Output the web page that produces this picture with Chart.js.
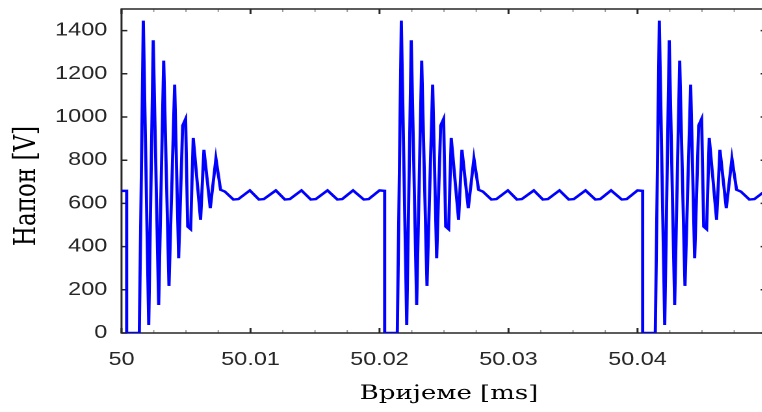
<!DOCTYPE html>
<html><head><meta charset="utf-8">
<script src="https://cdn.jsdelivr.net/npm/chart.js@4"></script>
<style>
html,body{margin:0;padding:0;overflow:hidden;background:#fff;width:762px;height:412px;}
#wrap{position:absolute;left:0;top:0;width:600px;height:412px;transform-origin:0 0;transform:scaleX(1.3);}
</style></head><body>
<div id="wrap"><canvas id="c"></canvas></div>
<script>
// ---- data ----
const timeMs = [
  50.0000, 50.0004, 50.0004, 50.00138, 50.00169, 50.00211, 50.00246, 50.00288, 50.00327, 50.00368,
  50.00412, 50.00443, 50.00474, 50.00497, 50.00513, 50.00536, 50.00556, 50.00613, 50.00639, 50.00688,
  50.00732, 50.00768, 50.00801, 50.00867, 50.00906, 50.00995, 50.01065, 50.01103, 50.01196, 50.01266,
  50.01305, 50.01395, 50.01467, 50.01506, 50.01597, 50.01673, 50.01711, 50.01795, 50.01878, 50.01916,
  50.02000,
  50.0204, 50.0204, 50.02138, 50.02169, 50.02211, 50.02246, 50.02288, 50.02327, 50.02368,
  50.02412, 50.02443, 50.02474, 50.02497, 50.02513, 50.02536, 50.02556, 50.02613, 50.02639, 50.02688,
  50.02732, 50.02768, 50.02801, 50.02867, 50.02906, 50.02995, 50.03065, 50.03103, 50.03196, 50.03266,
  50.03305, 50.03395, 50.03467, 50.03506, 50.03597, 50.03673, 50.03711, 50.03795, 50.03878, 50.03916,
  50.04000,
  50.0404, 50.0404, 50.04138, 50.04169, 50.04211, 50.04246, 50.04288, 50.04327, 50.04368,
  50.04412, 50.04443, 50.04474, 50.04497, 50.04513, 50.04536, 50.04556, 50.04613, 50.04639, 50.04688,
  50.04732, 50.04768, 50.04801, 50.04867, 50.04906, 50.04995
];
const voltageV = [
  658, 658, 0, 0, 1446, 37, 1355, 130, 1261, 218,
  1150, 346, 960, 991, 493, 481, 903, 524, 848, 578,
  807, 663, 655, 618, 620, 660, 618, 620, 660, 618,
  620, 660, 618, 620, 660, 618, 620, 660, 618, 620,
  660,
  658, 0, 0, 1446, 37, 1355, 130, 1261, 218,
  1150, 346, 960, 991, 493, 481, 903, 524, 848, 578,
  807, 663, 655, 618, 620, 660, 618, 620, 660, 618,
  620, 660, 618, 620, 660, 618, 620, 660, 618, 620,
  660,
  658, 0, 0, 1446, 37, 1355, 130, 1261, 218,
  1150, 346, 960, 991, 493, 481, 903, 524, 848, 578,
  807, 663, 655, 618, 620, 660
];
const xTickValues = [50, 50.01, 50.02, 50.03, 50.04];
const xTickLabels = ['50', '50.01', '50.02', '50.03', '50.04'];
const yTickValues = [0, 200, 400, 600, 800, 1000, 1200, 1400];
const yTickLabels = ['0', '200', '400', '600', '800', '1000', '1200', '1400'];
const xTitle = 'Вријеме [ms]';
const yTitle = 'Напон [V]';

// ---- layout ----
const SX = 1.3;
const AX = '#262626';

const matlabAxes = {
  id: 'matlabAxes',
  beforeDatasetsDraw(chart) {
    const {ctx, chartArea: a, scales: {x, y}} = chart;
    ctx.save();
    // minor x ticks
    ctx.strokeStyle = '#9a9a9a';
    ctx.lineWidth = 1;
    for (let i = 0; i < xTickValues.length; i++) {
      for (let k = 1; k < 4; k++) {
        const px = x.getPixelForValue(xTickValues[i] + k * 0.0025);
        ctx.beginPath();
        ctx.moveTo(px, a.bottom); ctx.lineTo(px, a.bottom - 3);
        ctx.moveTo(px, a.top); ctx.lineTo(px, a.top + 3);
        ctx.stroke();
      }
    }
    ctx.strokeStyle = AX;
    ctx.lineWidth = 1.5;
    // major x ticks
    xTickValues.forEach(v => {
      const px = x.getPixelForValue(v);
      ctx.beginPath();
      ctx.moveTo(px, a.bottom); ctx.lineTo(px, a.bottom - 5);
      ctx.moveTo(px, a.top); ctx.lineTo(px, a.top + 5);
      ctx.stroke();
    });
    // major y ticks (left and right side)
    yTickValues.forEach(v => {
      const py = y.getPixelForValue(v);
      ctx.beginPath();
      ctx.moveTo(a.left, py); ctx.lineTo(a.left + 4.5, py);
      ctx.moveTo(a.right, py); ctx.lineTo(a.right - 4.5, py);
      ctx.stroke();
    });
    // box: left, top, bottom (right edge lies outside the visible area)
    ctx.beginPath();
    ctx.moveTo(a.right, a.top); ctx.lineTo(a.left, a.top);
    ctx.lineTo(a.left, a.bottom); ctx.lineTo(a.right, a.bottom);
    ctx.stroke();
    ctx.restore();
  },
  afterDraw(chart) {
    const {ctx} = chart;
    ctx.save();
    ctx.fillStyle = '#000';
    ctx.textAlign = 'center';
    ctx.textBaseline = 'alphabetic';
    ctx.font = '20px "DejaVu Serif"';
    ctx.fillText(xTitle, 449 / SX, 399);
    ctx.font = '23px "DejaVu Serif"';
    ctx.translate(27, 186);
    ctx.rotate(-Math.PI / 2);
    ctx.fillText(yTitle, 0, 0);
    ctx.restore();
  }
};

new Chart(document.getElementById('c'), {
  type: 'line',
  data: {
    datasets: [{
      data: timeMs.map((t, i) => ({x: t, y: voltageV[i]})),
      borderColor: '#0000ff',
      borderWidth: 2.4,
      pointRadius: 0,
      tension: 0,
      fill: false
    }]
  },
  options: {
    responsive: true,
    maintainAspectRatio: false,
    animation: false,
    devicePixelRatio: 2,
    layout: {padding: {top: 9, right: 600 - 766.5 / SX, left: 0, bottom: 0}},
    plugins: {legend: {display: false}, tooltip: {enabled: false}},
    scales: {
      x: {
        type: 'linear', min: 50, max: 50.05,
        afterBuildTicks: s => { s.ticks = xTickValues.map(v => ({value: v})); },
        afterFit: s => { s.height = 412 - 333; s.paddingLeft = 0; s.paddingRight = 0; },
        grid: {display: false, drawTicks: false},
        border: {display: false},
        ticks: {
          autoSkip: false, maxRotation: 0, padding: 16,
          color: AX, font: {family: 'Liberation Sans', size: 18},
          callback: (v, i) => xTickLabels[i]
        }
      },
      y: {
        type: 'linear', min: 0, max: 1500,
        afterBuildTicks: s => { s.ticks = yTickValues.map(v => ({value: v})); },
        afterFit: s => { s.width = 121.5 / SX; s.paddingTop = 0; s.paddingBottom = 0; },
        grid: {display: false, drawTicks: false},
        border: {display: false},
        ticks: {
          autoSkip: false, padding: 11,
          color: AX, font: {family: 'Liberation Sans', size: 18},
          callback: (v, i) => yTickLabels[i]
        }
      }
    }
  },
  plugins: [matlabAxes]
});
</script>
</body></html>
